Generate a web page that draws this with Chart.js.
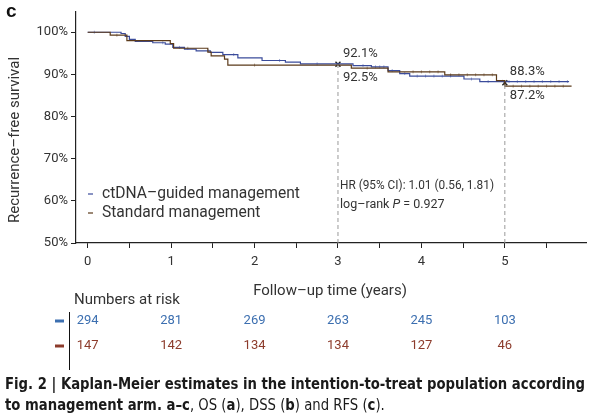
<!DOCTYPE html>
<html>
<head>
<meta charset="utf-8">
<script src="https://cdn.jsdelivr.net/npm/chart.js@4.4.1/dist/chart.umd.min.js"></script>
<style>
  body { margin: 0; background: #fff; }
  canvas { display: block; }
</style>
</head>
<body>
<canvas id="km" width="592" height="420"></canvas>
<script>
// Kaplan-Meier, RFS by management arm
const xTicks = [0, 0.5, 1, 1.5, 2, 2.5, 3, 3.5, 4, 4.5, 5, 5.5];
const yTicks = [50, 60, 70, 80, 90, 100];

const ctdnaTimes = [0, 0.40, 0.45, 0.50, 0.57, 0.78, 0.93, 1.02, 1.16, 1.30, 1.47, 1.62, 1.80, 2.09, 2.37, 2.55, 3.18, 3.40, 3.60, 3.74, 3.86, 4.51, 4.70, 5.77];
const ctdnaSurv = [100, 99.7, 99.0, 98.3, 97.8, 97.5, 97.2, 96.4, 96.0, 95.6, 95.2, 94.7, 93.9, 93.3, 92.9, 92.5, 92.1, 91.8, 90.9, 90.2, 89.6, 88.9, 88.3, 88.3];
const standardTimes = [0, 0.27, 0.47, 0.99, 1.03, 1.44, 1.48, 1.64, 1.68, 3.16, 3.60, 4.28, 4.90, 5.00, 5.80];
const standardSurv = [100, 99.3, 98.0, 97.3, 96.2, 95.3, 94.4, 93.6, 92.2, 91.5, 90.6, 89.9, 88.5, 87.2, 87.2];

// censoring ticks
const ctdnaCensor = [0.08, 0.9, 1.1, 1.45, 1.75, 2.3, 2.75, 3.3, 3.45, 3.5, 3.55, 3.65, 3.8, 3.95, 4.05, 4.15, 4.25, 4.35, 4.6, 4.8, 5.05, 5.15, 5.25, 5.35, 5.45, 5.55, 5.65, 5.75];
const standardCensor = [0.35, 1.2, 2.0, 3.35, 3.9, 4.0, 4.1, 4.2, 4.35, 4.45, 4.55, 4.65, 4.75, 4.85, 5.1, 5.2, 5.3, 5.4, 5.5, 5.6, 5.7];

// landmark marks (time, y of the cross) and their labels
const landmarkTimes = [3, 5];
const landmarkY = [92.4, 88.0];
const landmarkUpper = ['92.1%', '88.3%'];
const landmarkLower = ['92.5%', '87.2%'];

const riskTimes = [0, 1, 2, 3, 4, 5];
const ctdnaRisk = [294, 281, 269, 263, 245, 103];
const standardRisk = [147, 142, 134, 134, 127, 46];

const blue = '#3b4c9b';
const brown = '#5b3a1a';
const blueText = '#3c6fb0';
const brownText = '#8c3b2b';
const textColor = '#333';

function survAt(times, surv, t) {
    let s = surv[0];
    for (let i = 0; i < times.length; i++) {
        if (times[i] <= t) s = surv[i];
    }
    return s;
}

function steps(times, surv) {
    return times.map((t, i) => ({ x: t, y: surv[i] }));
}

function censorPoints(list, times, surv) {
    return list.map(t => ({ x: t, y: survAt(times, surv, t) }));
}

const dashLines = landmarkTimes.map((t, i) => ({
    data: [{ x: t, y: 50 }, { x: t, y: landmarkY[i] }],
    borderColor: '#9a9a9a',
    borderWidth: 1,
    borderDash: [4, 3],
    pointRadius: 0
}));

const extraText = {
    id: 'extraText',
    afterDraw(chart) {
        const ctx = chart.ctx;
        const xs = chart.scales.x;
        const ys = chart.scales.y;
        ctx.save();
        ctx.fillStyle = textColor;
        ctx.textBaseline = 'middle';

        // panel letter
        ctx.font = 'bold 19px "Liberation Sans", Arial, sans-serif';
        ctx.fillStyle = '#111';
        ctx.textAlign = 'left';
        ctx.fillText('c', 6, 12);
        ctx.fillStyle = textColor;

        // y title
        ctx.save();
        ctx.translate(15, 140);
        ctx.rotate(-Math.PI / 2);
        ctx.textAlign = 'center';
        ctx.font = '15px Roboto, sans-serif';
        ctx.fillText('Recurrence–free survival', 0, 0);
        ctx.restore();

        // x title
        ctx.textAlign = 'center';
        ctx.font = '15px Roboto, sans-serif';
        ctx.fillText('Follow–up time (years)', 330, 291);

        // landmark labels
        ctx.textAlign = 'left';
        ctx.font = '13px Roboto, sans-serif';
        landmarkTimes.forEach((t, i) => {
            const px = xs.getPixelForValue(t) + 5;
            const py = ys.getPixelForValue(landmarkY[i]);
            ctx.fillText(landmarkUpper[i], px, py - 11);
            ctx.fillText(landmarkLower[i], px, py + 13);
        });

        // legend
        ctx.font = '15.6px Roboto, sans-serif';
        ctx.lineWidth = 1.2;
        [[blue, 'ctDNA–guided management', 194], [brown, 'Standard management', 213]].forEach(([c, label, y]) => {
            ctx.strokeStyle = c;
            ctx.beginPath();
            ctx.moveTo(88, y);
            ctx.lineTo(93, y);
            ctx.stroke();
            ctx.fillText(label, 102, y);
        });

        // HR text
        ctx.font = '12.5px Roboto, sans-serif';
        ctx.fillText('HR (95% CI): 1.01 (0.56, 1.81)', 340, 186, 154);
        ctx.fillText('log–rank ', 340, 205, 56);
        let w = Math.min(ctx.measureText('log–rank ').width, 56);
        ctx.font = 'italic 12.5px Roboto, sans-serif';
        ctx.fillText('P', 340 + w, 205);
        w += ctx.measureText('P').width;
        ctx.font = '12.5px Roboto, sans-serif';
        ctx.fillText(' = 0.927', 340 + w, 205, 52);

        // numbers at risk
        ctx.font = '15px Roboto, sans-serif';
        ctx.fillText('Numbers at risk', 74, 300);
        ctx.strokeStyle = '#111';
        ctx.lineWidth = 1;
        ctx.beginPath();
        ctx.moveTo(69.5, 312);
        ctx.lineTo(69.5, 370);
        ctx.stroke();
        ctx.lineWidth = 3;
        ctx.strokeStyle = blueText;
        ctx.beginPath();
        ctx.moveTo(55, 321);
        ctx.lineTo(64, 321);
        ctx.stroke();
        ctx.strokeStyle = brownText;
        ctx.beginPath();
        ctx.moveTo(55, 346);
        ctx.lineTo(64, 346);
        ctx.stroke();
        ctx.font = '13px Roboto, sans-serif';
        ctx.textAlign = 'center';
        riskTimes.forEach((t, i) => {
            const px = xs.getPixelForValue(t);
            ctx.fillStyle = blueText;
            ctx.fillText(String(ctdnaRisk[i]), px, 321);
            ctx.fillStyle = brownText;
            ctx.fillText(String(standardRisk[i]), px, 346);
        });

        // caption
        ctx.fillStyle = '#1a1a1a';
        ctx.textAlign = 'left';
        ctx.textBaseline = 'alphabetic';
        const bold = 'bold 16px "Liberation Sans Narrow", "DejaVu Sans Condensed", sans-serif';
        const reg = '16px "Liberation Sans Narrow", "DejaVu Sans Condensed", sans-serif';
        const line1 = 'Fig. 2 | Kaplan-Meier estimates in the intention-to-treat population according';
        ctx.font = bold;
        const sx = 580 / ctx.measureText(line1).width;
        ctx.save();
        ctx.translate(5, 389);
        ctx.scale(sx, 1);
        ctx.fillText(line1, 0, 0);
        ctx.restore();
        const parts = [
            ['to management arm.', bold], [' a–c', bold], [', OS (', reg], ['a', bold],
            ['), DSS (', reg], ['b', bold], [') and RFS (', reg], ['c', bold], [').', reg]
        ];
        ctx.save();
        ctx.translate(5, 410);
        ctx.scale(sx, 1);
        let cx = 0;
        parts.forEach(([s, f]) => {
            ctx.font = f;
            ctx.fillText(s, cx, 0);
            cx += ctx.measureText(s).width;
        });
        ctx.restore();

        ctx.restore();
    }
};

const chart = new Chart(document.getElementById('km'), {
    type: 'line',
    data: {
        datasets: [
            ...dashLines,
            {
                data: steps(standardTimes, standardSurv),
                borderColor: brown,
                borderWidth: 1.2,
                stepped: 'before',
                pointRadius: 0
            },
            {
                data: steps(ctdnaTimes, ctdnaSurv),
                borderColor: blue,
                borderWidth: 1.2,
                stepped: 'before',
                pointRadius: 0
            },
            {
                data: censorPoints(standardCensor, standardTimes, standardSurv),
                showLine: false,
                pointStyle: 'line',
                rotation: 90,
                pointRadius: 1.5,
                pointBorderWidth: 0.7,
                pointBorderColor: 'rgba(91,58,26,0.7)'
            },
            {
                data: censorPoints(ctdnaCensor, ctdnaTimes, ctdnaSurv),
                showLine: false,
                pointStyle: 'line',
                rotation: 90,
                pointRadius: 1.5,
                pointBorderWidth: 0.7,
                pointBorderColor: 'rgba(59,76,155,0.7)'
            },
            {
                data: landmarkTimes.map((t, i) => ({ x: t, y: landmarkY[i] })),
                showLine: false,
                pointStyle: 'crossRot',
                pointRadius: 3.5,
                pointBorderWidth: 1.4,
                pointBorderColor: '#222'
            }
        ]
    },
    options: {
        responsive: false,
        animation: false,
        layout: { padding: { top: 12, right: 2, bottom: 147, left: 0 } },
        plugins: { legend: { display: false }, tooltip: { enabled: false } },
        scales: {
            x: {
                type: 'linear',
                min: -0.14,
                max: 5.98,
                afterBuildTicks: s => { s.ticks = xTicks.map(v => ({ value: v })); },
                afterFit: s => { s.height = 30; },
                ticks: {
                    callback: v => Number.isInteger(v) ? String(v) : '',
                    font: { family: 'Roboto', size: 13 },
                    color: textColor,
                    padding: 6,
                    maxRotation: 0,
                    autoSkip: false
                },
                grid: { drawOnChartArea: false, tickLength: 5, color: '#222' },
                border: { color: '#222', width: 1.2 }
            },
            y: {
                min: 50,
                max: 104.8,
                afterBuildTicks: s => { s.ticks = yTicks.map(v => ({ value: v })); },
                afterFit: s => { s.width = 76; },
                ticks: {
                    callback: v => v + '%',
                    font: { family: 'Roboto', size: 13 },
                    color: textColor,
                    padding: 3
                },
                grid: { drawOnChartArea: false, tickLength: 5, color: '#222' },
                border: { color: '#222', width: 1.2 }
            }
        }
    },
    plugins: [extraText]
});
</script>
</body>
</html>
